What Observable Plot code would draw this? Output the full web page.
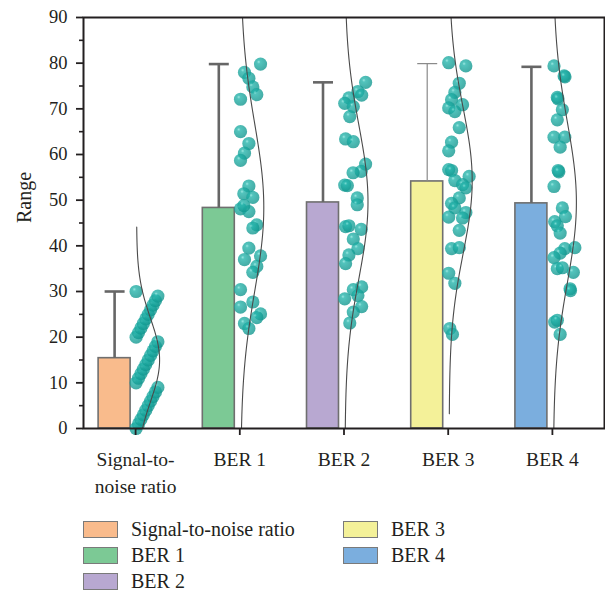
<!DOCTYPE html>
<html>
<head>
<meta charset="utf-8">
<script src="https://cdn.jsdelivr.net/npm/d3@7"></script>
<script src="https://cdn.jsdelivr.net/npm/@observablehq/plot@0.6"></script>
<style>
  html, body { margin: 0; padding: 0; background: #fff; }
  #wrap { position: relative; width: 605px; height: 593px; font-family: "Liberation Serif", "DejaVu Serif", serif; color: #231f20; }
  #wrap svg { position: absolute; left: 0; top: 0; }
  .lg { position: absolute; display: flex; align-items: center; font-size: 20px; line-height: 1; }
  .sw { width: 33px; height: 15px; border: 1.5px solid #7a7a7a; margin-right: 13px; box-sizing: content-box; }
</style>
</head>
<body>
<div id="wrap"></div>
<script>
// ---------- data ----------
const categories = ["Signal-to-noise ratio", "BER 1", "BER 2", "BER 3", "BER 4"];
const tickLabels = ["Signal-to-\nnoise ratio", "BER 1", "BER 2", "BER 3", "BER 4"];
const yLabel = "Range";
const means = [15.4, 48.3, 49.5, 54.1, 49.3];
const maxima = [30, 79.8, 75.8, 79.9, 79.2];
const barColors = ["#f9bb8c", "#7cc995", "#b8a8d1", "#f4f199", "#7baede"];
const yTicks = [0, 10, 20, 30, 40, 50, 60, 70, 80, 90];
const yMinorTicks = [5, 15, 25, 35, 45, 55, 65, 75, 85];

// individual observations (value) and their relative jitter (0..1)
const snrValues = [0,1,2,3,4,5,6,7,8,9,10,11,12,13,14,15,16,17,18,19,20,21,22,23,24,25,26,27,28,29,30];
const snrJitter = [0,.11,.22,.33,.44,.55,.66,.77,.88,.99,0,.11,.22,.33,.44,.55,.66,.77,.88,.99,0,.11,.22,.33,.44,.55,.66,.77,.88,.99,0];

const ber1Values = [79.8,78.0,76.7,74.8,73.1,72.1,65.0,62.4,60.3,58.7,53.1,51.4,50.6,48.1,47.5,48.8,44.6,43.9,39.5,37.8,37.0,35.5,34.2,30.4,27.7,26.6,25.1,24.3,23.0,21.9];
const ber1Jitter = [.92,.19,.39,.57,.75,.01,.01,.39,.19,.01,.39,.16,.57,.01,.39,.16,.75,.57,.39,.92,.19,.75,.57,.01,.57,.01,.92,.75,.19,.39];

const ber2Values = [75.8,73.8,73.0,72.4,71.2,70.5,68.3,63.4,62.8,57.9,56.3,56.0,53.3,53.2,50.5,49.0,44.2,44.4,43.6,41.5,39.4,38.0,36.1,31.0,30.4,29.1,28.4,26.7,25.5,23.1];
const ber2Jitter = [.96,.61,.78,.20,.01,.40,.24,.05,.40,.96,.76,.39,.01,.13,.58,.58,.05,.20,.76,.40,.61,.20,.05,.78,.40,.61,.01,.78,.40,.24];

const ber3Values = [80.1,79.4,75.6,73.6,72.0,70.9,70.2,69.4,65.9,62.7,60.8,56.7,56.5,55.2,54.3,53.4,52.7,50.5,49.3,48.3,47.3,46.3,46.1,43.4,39.4,39.6,34.0,31.8,21.9,20.6];
const ber3Jitter = [0,.78,.48,.28,.13,.63,0,.28,.48,.13,0,0,.13,.93,.28,.63,.78,.48,.13,.28,.78,0,.63,.48,.13,.48,0,.28,.05,.17];

const ber4Values = [79.4,77.2,77.0,72.5,72.2,69.8,67.6,63.8,63.8,61.6,56.5,56.2,53.0,48.3,46.4,45.3,44.4,42.8,39.6,39.4,38.4,37.4,35.0,35.2,34.2,30.6,30.2,23.3,23.7,20.6];
const ber4Jitter = [.05,.51,.55,.20,.23,.43,.20,.05,.54,.33,.24,.27,.05,.43,.57,.08,.20,.33,1.0,.54,.33,.05,.20,.43,.93,.78,.80,.08,.20,.33];

// ---------- layout constants ----------
const PX = 104.25;                // px per category unit
const BAR_L = -0.355, BAR_R = -0.048;
const BAR_C = (BAR_L + BAR_R) / 2;
const CAP = 10 / PX;
const JIT0 = 0.5 / PX, JITW = 22 / PX;
const CURVE0 = 1 / PX, CURVEW = 23 / PX;

const valueSets = [snrValues, ber1Values, ber2Values, ber3Values, ber4Values];
const jitterSets = [snrJitter, ber1Jitter, ber2Jitter, ber3Jitter, ber4Jitter];

const bars = categories.map((c, i) => ({i, cat: c, mean: means[i], max: maxima[i]}));
const points = valueSets.flatMap((vals, i) => vals.map((v, k) => ({i, v, j: jitterSets[i][k]})));

// normal curve fitted to each group's observations
const curves = valueSets.flatMap((vals, i) => {
  const m = d3.mean(vals), s = d3.deviation(vals);
  const lo = Math.max(0, m - 3.2 * s), hi = Math.min(90, m + 3.2 * s);
  return d3.range(0, 121).map(t => {
    const y = lo + (hi - lo) * t / 120;
    const g = Math.exp(-0.5 * ((y - m) / s) ** 2);
    return {i, y, x: i + CURVE0 + CURVEW * g};
  });
});

const errStyle = [
  {stroke: "#666", w: 2.6}, {stroke: "#666", w: 2.6}, {stroke: "#666", w: 2.6},
  {stroke: "#8a8a8a", w: 1.2}, {stroke: "#666", w: 2.6}
];

const chart = Plot.plot({
  width: 605,
  height: 510,
  marginTop: 17,
  marginBottom: 82,
  marginLeft: 83,
  marginRight: 1,
  style: {fontFamily: "Liberation Serif, serif", fontSize: "18px", color: "#231f20", background: "transparent"},
  x: {type: "linear", domain: [-0.5, 4.5]},
  y: {domain: [0, 90]},
  color: {domain: categories, range: barColors},
  marks: [
    Plot.rect(bars, {x1: d => d.i + BAR_L, x2: d => d.i + BAR_R, y1: 0, y2: "mean", fill: "cat", stroke: "#6f6f6f", strokeWidth: 1.6}),
    ...bars.map(b => Plot.ruleX([b], {x: d => d.i + BAR_C, y1: "mean", y2: "max", stroke: errStyle[b.i].stroke, strokeWidth: errStyle[b.i].w})),
    ...bars.map(b => Plot.link([b], {x1: d => d.i + BAR_C - CAP, x2: d => d.i + BAR_C + CAP, y1: "max", y2: "max", stroke: errStyle[b.i].stroke, strokeWidth: errStyle[b.i].w})),
    Plot.dot(points, {x: d => d.i + JIT0 + JITW * d.j, y: "v", r: 6.6, fill: "url(#ball)", fillOpacity: 0.78, stroke: null}),
    Plot.line(curves, {x: "x", y: "y", z: "i", stroke: "#4a4a4a", strokeWidth: 1.1}),
    Plot.frame({stroke: "#231f20", strokeWidth: 2}),
    Plot.axisY(yTicks, {tickSize: 7, tickPadding: 9, strokeWidth: 1.8, fontSize: 18.5, label: null}),
    Plot.axisY(yMinorTicks, {tickSize: 4, strokeWidth: 1.6, tickFormat: () => "", label: null}),
    Plot.text([yLabel], {frameAnchor: "left", dx: -59, rotate: -90, fontSize: 20, fill: "#231f20"}),
    Plot.axisX([0, 1, 2, 3, 4], {tickSize: 7, tickPadding: 12, strokeWidth: 1.8, fontSize: 19.5, lineHeight: 1.35, tickFormat: i => tickLabels[i], label: null})
  ]
});

// sphere-like gradient for the dots
const ns = "http://www.w3.org/2000/svg";
const defs = document.createElementNS(ns, "defs");
const grad = document.createElementNS(ns, "radialGradient");
grad.setAttribute("id", "ball");
grad.setAttribute("cx", "0.4"); grad.setAttribute("cy", "0.38"); grad.setAttribute("r", "0.62");
grad.setAttribute("fx", "0.36"); grad.setAttribute("fy", "0.33");
[["0", "#7fe0d8"], ["0.22", "#22b3aa"], ["1", "#0f958d"]].forEach(([o, c]) => {
  const s = document.createElementNS(ns, "stop");
  s.setAttribute("offset", o); s.setAttribute("stop-color", c);
  grad.appendChild(s);
});
defs.appendChild(grad);
chart.insertBefore(defs, chart.firstChild);

const wrap = document.getElementById("wrap");
wrap.appendChild(chart);

// legend (below the plot)
const legendPos = [
  {left: 83, top: 528}, {left: 83, top: 554}, {left: 83, top: 580},
  {left: 343, top: 528}, {left: 343, top: 554}
];
categories.forEach((c, i) => {
  const row = document.createElement("div");
  row.className = "lg";
  row.style.left = legendPos[i].left + "px";
  row.style.top = (legendPos[i].top - 9) + "px";
  const sw = document.createElement("span");
  sw.className = "sw";
  sw.style.background = barColors[i];
  const tx = document.createElement("span");
  tx.textContent = c;
  row.appendChild(sw); row.appendChild(tx);
  wrap.appendChild(row);
});
</script>
</body>
</html>
